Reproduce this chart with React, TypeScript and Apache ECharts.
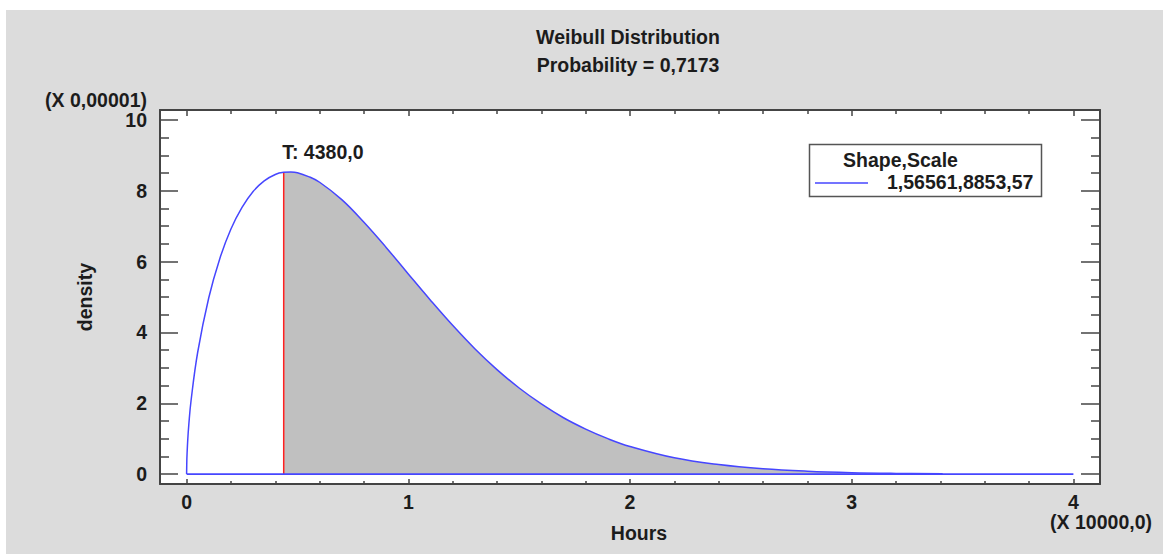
import React, { useEffect, useRef } from "react";
import * as echarts from "echarts";

// x in units of 10000 hours, density in units of 0.00001
const hours = [0, 0.001, 0.002, 0.005, 0.01, 0.02, 0.05, 0.1, 0.15, 0.2, 0.25, 0.3, 0.35, 0.4, 0.438, 0.47, 0.5, 0.55, 0.6, 0.7, 0.8, 0.9, 1.0, 1.1, 1.2, 1.3, 1.4, 1.5, 1.6, 1.7, 1.8, 1.9, 2.0, 2.2, 2.4, 2.6, 2.8, 3.0, 3.2, 3.41];
const density = [0, 0.38, 0.56, 0.95, 1.4, 2.07, 3.44, 4.98, 6.09, 6.92, 7.53, 7.98, 8.28, 8.46, 8.52, 8.53, 8.51, 8.4, 8.24, 7.75, 7.11, 6.4, 5.65, 4.91, 4.2, 3.54, 2.95, 2.43, 1.98, 1.59, 1.27, 1.0, 0.78, 0.46, 0.27, 0.15, 0.08, 0.04, 0.02, 0.01];
const baselineX = [0, 4];
const T = 0.438;
const T_LABEL = "T: 4380,0";
const TITLE = "Weibull Distribution";
const SUBTITLE = "Probability = 0,7173";
const LEGEND_HEADER = "Shape,Scale";
const LEGEND_VALUE = "1,56561,8853,57";
const xMajorTicks = [0, 1, 2, 3, 4];
const xMinorTicks = [0.2, 0.4, 0.6, 0.8, 1.2, 1.4, 1.6, 1.8, 2.2, 2.4, 2.6, 2.8, 3.2, 3.4, 3.6, 3.8];
const yMajorTicks = [0, 2, 4, 6, 8, 10];
const yMinorTicks = [0.5, 1, 1.5, 2.5, 3, 3.5, 4.5, 5, 5.5, 6.5, 7, 7.5, 8.5, 9, 9.5];

const FONT = "'Liberation Sans', Arial, sans-serif";
const FS = 19.5;
const TXT = "#1c1c1c";
const AXC = "#444";
const BLUE = "#4646ff";

export default function App() {
  const ref = useRef<HTMLDivElement>(null);
  useEffect(() => {
    const chart = echarts.init(ref.current!, null, { renderer: "svg" });
    const tIdx = hours.indexOf(T);
    const tDensity = density[tIdx];
    const curve = hours.map((h, i) => [h, density[i]]);
    const tail = curve.slice(tIdx);

    const xAx = (position: string, ticks: number[], len: number, line: boolean, labels: boolean) => ({
      type: "value",
      position,
      min: -0.12,
      max: 4.12,
      axisLine: { show: line, onZero: false, lineStyle: { color: AXC, width: 2 } },
      axisTick: { show: true, inside: true, length: len, customValues: ticks, lineStyle: { color: AXC, width: 1.5 } },
      axisLabel: labels
        ? { show: true, customValues: ticks, margin: 8, color: TXT, fontFamily: FONT, fontWeight: "bold", fontSize: FS, formatter: (v: number) => String(v) }
        : { show: false },
      splitLine: { show: false },
    });
    const yAx = (position: string, ticks: number[], len: number, line: boolean, labels: boolean) => ({
      type: "value",
      position,
      min: -0.28,
      max: 10.28,
      axisLine: { show: line, onZero: false, lineStyle: { color: AXC, width: 2 } },
      axisTick: { show: true, inside: true, length: len, customValues: ticks, lineStyle: { color: AXC, width: 1.5 } },
      axisLabel: labels
        ? { show: true, customValues: ticks, margin: 13, color: TXT, fontFamily: FONT, fontWeight: "bold", fontSize: FS, formatter: (v: number) => String(v) }
        : { show: false },
      splitLine: { show: false },
    });

    const textStyle = (extra: any) => ({ fill: TXT, fontFamily: FONT, fontWeight: "bold", fontSize: FS, ...extra });

    const graphics: any[] = [
      { type: "text", x: 628, y: 37, style: textStyle({ text: TITLE, textAlign: "center", textVerticalAlign: "middle" }) },
      { type: "text", x: 628, y: 65, style: textStyle({ text: SUBTITLE, textAlign: "center", textVerticalAlign: "middle" }) },
      { type: "text", x: 147, y: 100, style: textStyle({ text: "(X 0,00001)", textAlign: "right", textVerticalAlign: "middle" }) },
      { type: "text", x: 1152, y: 522, style: textStyle({ text: "(X 10000,0)", textAlign: "right", textVerticalAlign: "middle" }) },
      { type: "text", x: 639, y: 533, style: textStyle({ text: "Hours", textAlign: "center", textVerticalAlign: "middle" }) },
      { type: "text", x: 85, y: 297, rotation: Math.PI / 2, style: textStyle({ text: "density", textAlign: "center", textVerticalAlign: "middle" }) },
      { type: "rect", shape: { x: 809.5, y: 144.5, width: 232, height: 52 }, style: { fill: "#fff", stroke: "#555", lineWidth: 1.5 }, z: 10 },
      { type: "text", x: 843, y: 159.5, z: 11, style: textStyle({ text: LEGEND_HEADER, textAlign: "left", textVerticalAlign: "middle" }) },
      { type: "line", shape: { x1: 815, y1: 183, x2: 868, y2: 183 }, z: 11, style: { stroke: BLUE, lineWidth: 1.5 } },
      { type: "text", x: 887, y: 182, z: 11, style: textStyle({ text: LEGEND_VALUE, textAlign: "left", textVerticalAlign: "middle" }) },
    ];

    const option: any = {
      animation: false,
      backgroundColor: "transparent",
      grid: { left: 160, top: 110, right: 63, bottom: 70, show: true, backgroundColor: "#fff", borderWidth: 0 },
      xAxis: [
        xAx("bottom", xMajorTicks, 5, true, true),
        xAx("bottom", xMinorTicks, 3, false, false),
        xAx("top", xMajorTicks, 6, true, false),
        xAx("top", xMinorTicks, 4, false, false),
      ],
      yAxis: [
        yAx("left", yMajorTicks, 18, true, true),
        yAx("left", yMinorTicks, 9, false, false),
        yAx("right", yMajorTicks, 19, true, false),
        yAx("right", yMinorTicks, 9, false, false),
      ],
      series: [
        {
          type: "line",
          data: tail,
          smooth: 0.4,
          showSymbol: false,
          symbol: "none",
          lineStyle: { width: 0 },
          areaStyle: { color: "#c0c0c0", opacity: 1 },
          z: 1,
        },
        {
          type: "line",
          data: [[T, 0], [T, tDensity]],
          showSymbol: false,
          symbol: "none",
          lineStyle: { color: "#ff2020", width: 1.5 },
          z: 2,
        },
        {
          type: "line",
          data: baselineX.map((x) => [x, 0]),
          showSymbol: false,
          symbol: "none",
          lineStyle: { color: BLUE, width: 1.8 },
          z: 3,
        },
        {
          type: "line",
          data: curve,
          smooth: 0.4,
          showSymbol: false,
          symbol: "none",
          lineStyle: { color: BLUE, width: 1.5 },
          z: 4,
        },
      ],
      graphic: graphics,
    };
    chart.setOption(option);
    const p = chart.convertToPixel({ xAxisIndex: 0, yAxisIndex: 0 }, [T, tDensity]) as number[];
    chart.setOption({
      graphic: [
        ...graphics,
        { type: "text", x: p[0] - 1.5, y: p[1] - 20, style: textStyle({ text: T_LABEL, textAlign: "left", textVerticalAlign: "middle" }) },
      ],
    });
    return () => chart.dispose();
  }, []);
  return (
    <div style={{ position: "fixed", left: 0, top: 0, width: 1163, height: 554, background: "#fff" }}>
      <div style={{ position: "absolute", left: 6, top: 10, width: 1157, height: 544, background: "#dcdcdc" }} />
      <div ref={ref} style={{ position: "absolute", left: 0, top: 0, width: 1163, height: 554 }} />
    </div>
  );
}
